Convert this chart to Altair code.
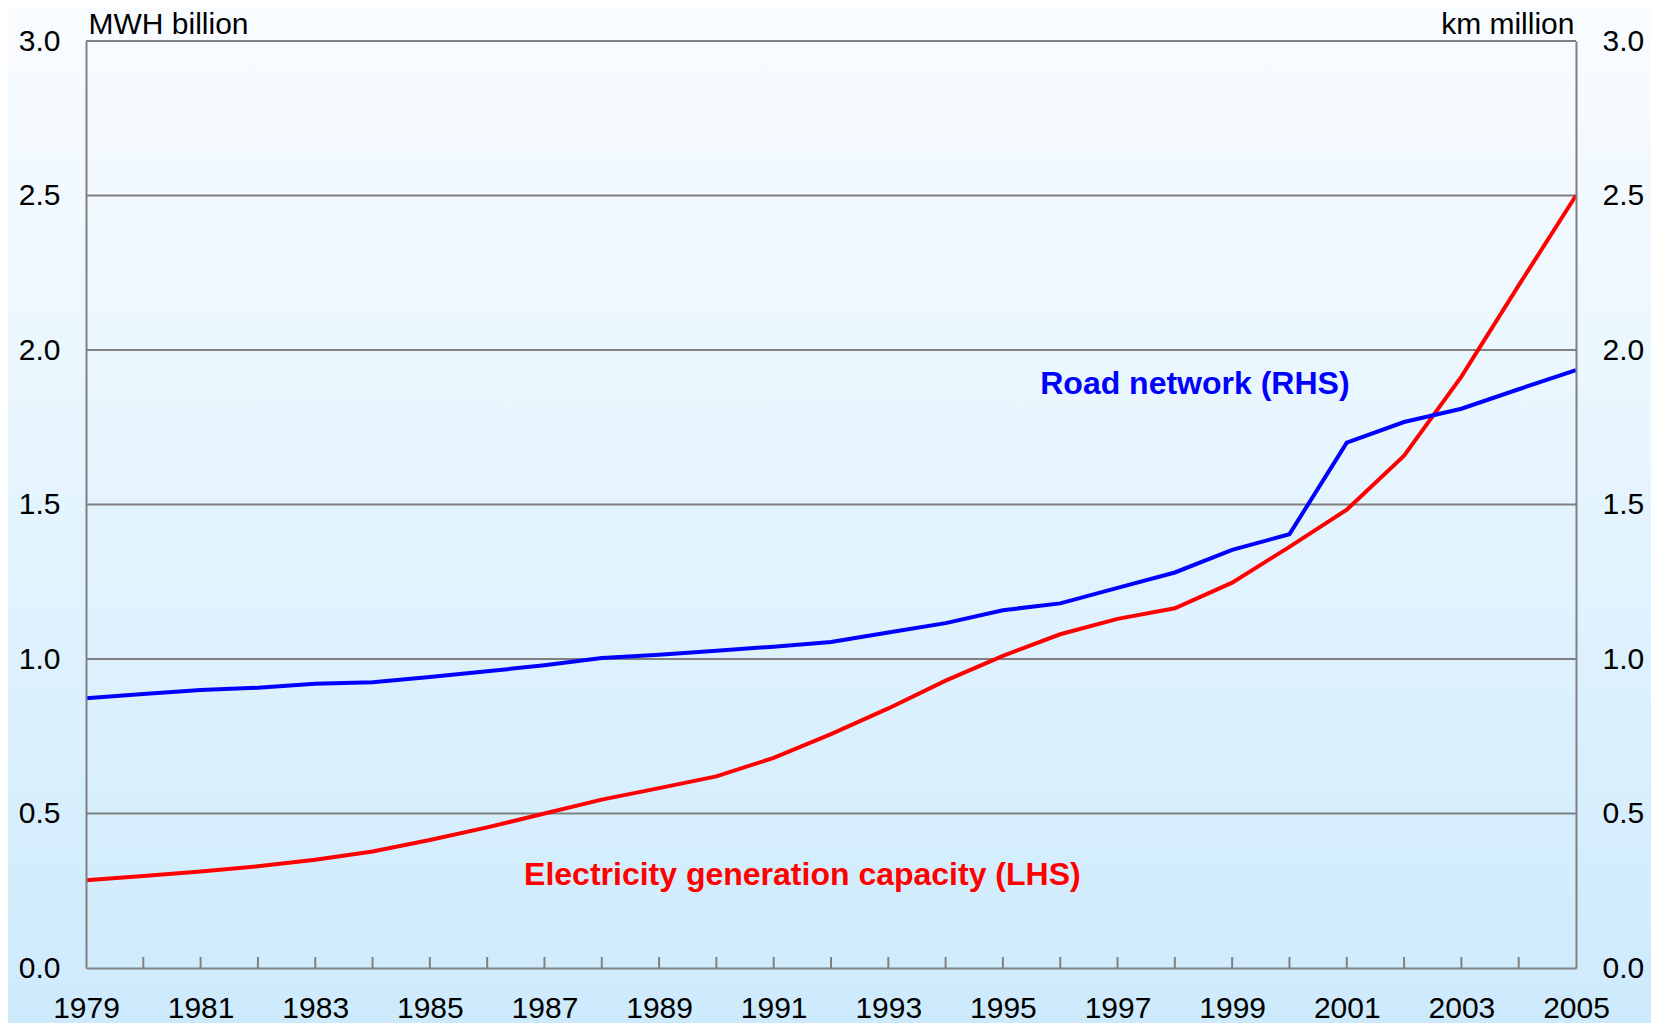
import altair as alt
import pandas as pd

years = list(range(1979, 2006))
electricity = [0.284, 0.298, 0.312, 0.329, 0.350, 0.377, 0.414, 0.455, 0.500, 0.545,
               0.582, 0.620, 0.680, 0.757, 0.840, 0.930, 1.010, 1.080, 1.130, 1.164,
               1.247, 1.363, 1.483, 1.658, 1.914, 2.209, 2.500]
road = [0.873, 0.887, 0.900, 0.907, 0.920, 0.925, 0.942, 0.960, 0.980, 1.003,
        1.014, 1.027, 1.040, 1.055, 1.086, 1.116, 1.158, 1.180, 1.230, 1.280,
        1.353, 1.404, 1.700, 1.767, 1.810, 1.873, 1.935]
y_ticks = [0.0, 0.5, 1.0, 1.5, 2.0, 2.5, 3.0]
grid_values = [0.5, 1.0, 1.5, 2.0, 2.5, 3.0]
label_text = ["Electricity generation capacity (LHS)", "Road network (RHS)"]
label_year = [1991.5, 1998.35]
label_value = [0.30, 1.89]
label_color = ["#FF0000", "#0000FF"]

W, H = 1490, 927
PAD = {"left": 78, "top": 33, "right": 75, "bottom": 55}
FONT = "Liberation Sans"
GRAY = "#808080"
FS = 30

df = pd.DataFrame({"year": years, "electricity": electricity, "road": road})
grid_df = pd.DataFrame({"v": grid_values})
tick_df = pd.DataFrame({"year": years[1:-1]})
lab_df = pd.DataFrame({"label": label_text, "year": label_year,
                       "value": label_value, "color": label_color})

xscale = alt.Scale(domain=[1979, 2005], nice=False, zero=False)
yscale = alt.Scale(domain=[0, 3], nice=False, zero=True)

xaxis = alt.Axis(values=years,
                 labelExpr="datum.value % 2 == 1 ? format(datum.value, 'd') : ''",
                 ticks=False, tickSize=0, grid=False, domain=True,
                 domainColor=GRAY, domainWidth=2, labelPadding=25,
                 labelFontSize=FS, labelFont=FONT, labelColor="black",
                 labelOverlap=False, labelFlush=False, title=None, zindex=1)

def yaxis(orient, title, align, tx):
    return alt.Axis(orient=orient, values=y_ticks, format=".1f", ticks=False,
                    tickSize=0, grid=False, domain=True, domainColor=GRAY,
                    domainWidth=2, labelPadding=26, labelFontSize=FS,
                    labelFont=FONT, labelColor="black", title=title,
                    titleAngle=0, titleAlign=align, titleBaseline="middle",
                    titleX=tx, titleY=-17, titleFontSize=FS,
                    titleFontWeight="normal", titleFont=FONT,
                    titleColor="black", zindex=1)

X = alt.X("year:Q", scale=xscale, axis=xaxis)

gradient = alt.LinearGradient(
    gradient="linear",
    stops=[alt.GradientStop(color="#F9FCFF", offset=0),
           alt.GradientStop(color="#E6F5FE", offset=0.45),
           alt.GradientStop(color="#CDEAFC", offset=1)],
    x1=0, x2=0, y1=0, y2=1)

bg = alt.Chart(pd.DataFrame({"a": [0]})).mark_rect(fill=gradient, clip=False).encode(
    x=alt.value(-PAD["left"]), x2=alt.value(W + PAD["right"]),
    y=alt.value(-PAD["top"]), y2=alt.value(H + PAD["bottom"]))

grid = alt.Chart(grid_df).mark_rule(color=GRAY, strokeWidth=2).encode(
    y=alt.Y("v:Q", scale=yscale, axis=None))

ticks = alt.Chart(tick_df).mark_rule(color=GRAY, strokeWidth=2).encode(
    x=X, y=alt.value(H - 11), y2=alt.value(H))

elec = alt.Chart(df).mark_line(color="#FF0000", strokeWidth=4).encode(
    x=X, y=alt.Y("electricity:Q", scale=yscale,
                 axis=yaxis("left", "MWH billion", "left", 2)))

roadl = alt.Chart(df).mark_line(color="#0000FF", strokeWidth=4).encode(
    x=X, y=alt.Y("road:Q", scale=yscale,
                 axis=yaxis("right", "km million", "right", -2)))

labels = alt.Chart(lab_df).mark_text(fontSize=32, fontWeight="bold", font=FONT,
                                     align="center", baseline="middle").encode(
    x=X, y=alt.Y("value:Q", scale=yscale, axis=None),
    text="label:N", color=alt.Color("color:N", scale=None))

chart = alt.layer(bg, grid, ticks, elec, roadl, labels).resolve_scale(
    y="independent"
).properties(
    width=W, height=H, padding=PAD,
    autosize=alt.AutoSizeParams(type="none")
).configure_view(stroke=None)

chart.save("out.html", embed_options={"renderer": "svg", "actions": False})
